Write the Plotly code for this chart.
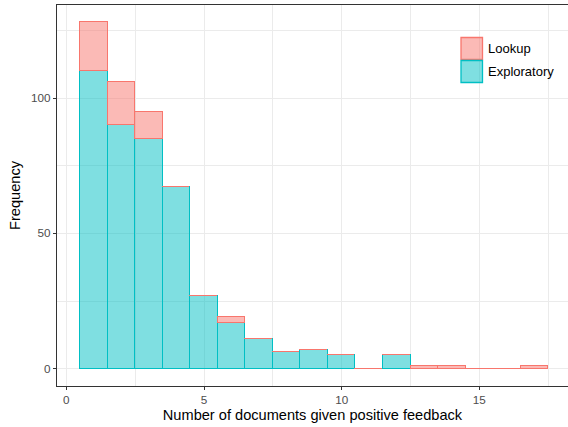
import plotly.graph_objects as go

# Bin centres (number of documents given positive feedback), bin width 1
bins = list(range(1, 18))
# Stacked histogram counts (Exploratory at the bottom, Lookup stacked on top)
exploratory = [110, 90, 85, 67, 27, 17, 11, 6, 7, 5, 0, 5, 0, 0, 0, 0, 0]
lookup = [18, 16, 10, 0, 0, 2, 0, 0, 0, 0, 0, 0, 1, 1, 0, 0, 1]

x_ticks = [0, 5, 10, 15]
y_ticks = [0, 50, 100]

RED = "#F8766D"
TEAL = "#00BFC4"
RED_FILL = "rgba(248,118,109,0.5)"
TEAL_FILL = "rgba(0,191,196,0.5)"

fig = go.Figure()
fig.add_trace(go.Bar(x=bins, y=exploratory, width=1, name="Exploratory",
                     marker=dict(color=TEAL_FILL, line=dict(color=TEAL, width=1.5)),
                     showlegend=False))
fig.add_trace(go.Bar(x=bins, y=lookup, width=1, name="Lookup",
                     marker=dict(color=RED_FILL, line=dict(color=RED, width=1.5)),
                     showlegend=False))

W, H = 568, 427
ml, mr, mt, mb = 57, 0, 5, 41

fig.update_layout(
    width=W, height=H,
    margin=dict(l=ml, r=mr, t=mt, b=mb, pad=0),
    barmode="stack",
    bargap=0,
    plot_bgcolor="white",
    paper_bgcolor="white",
    font=dict(family="Liberation Sans, Arial, sans-serif", color="black"),
    xaxis=dict(
        range=[-0.34, 18.22],
        tickvals=x_ticks,
        ticks="outside", ticklen=3, tickcolor="#333333", tickwidth=1,
        tickfont=dict(size=11.7, color="#4D4D4D"),
        showgrid=True, gridcolor="#EBEBEB", gridwidth=1.1,
        minor=dict(tickvals=[2.5, 7.5, 12.5, 17.5], showgrid=True,
                   gridcolor="#EBEBEB", gridwidth=0.55, ticks=""),
        showline=True, linecolor="#333333", linewidth=1.1, mirror=True,
        zeroline=False,
        title=dict(text="Number of documents given positive feedback",
                   font=dict(size=14.6, color="black"), standoff=4),
    ),
    yaxis=dict(
        range=[-6.4, 134.4],
        tickvals=y_ticks,
        ticks="outside", ticklen=3, tickcolor="#333333", tickwidth=1,
        tickfont=dict(size=11.7, color="#4D4D4D"),
        showgrid=True, gridcolor="#EBEBEB", gridwidth=1.1,
        minor=dict(tickvals=[25, 75, 125], showgrid=True,
                   gridcolor="#EBEBEB", gridwidth=0.55, ticks=""),
        showline=True, linecolor="#333333", linewidth=1.1, mirror=False,
        zeroline=False,
        title=dict(text="Frequency", font=dict(size=14.6, color="black"), standoff=6),
    ),
)

# Custom legend (ggplot-style keys) in pixel-derived paper coords
pw = W - ml - mr
ph = H - mt - mb
def px(xp):
    return (xp - ml) / pw
def py(yp):
    return 1 - (yp - mt) / ph

shapes = [
    dict(type="rect", xref="paper", yref="paper", layer="below",
         x0=px(453), x1=px(566), y0=py(88), y1=py(31),
         fillcolor="white", line=dict(width=0)),
]
keys = [("Lookup", RED_FILL, RED, 37.5, 59.5), ("Exploratory", TEAL_FILL, TEAL, 60.5, 82.5)]
annotations = []
for label, fill, edge, y0, y1 in keys:
    shapes.append(dict(type="rect", xref="paper", yref="paper", layer="above",
                       x0=px(461), x1=px(482.5), y0=py(y1), y1=py(y0),
                       fillcolor=fill, line=dict(color=edge, width=1.3)))
    annotations.append(dict(xref="paper", yref="paper", x=px(486), y=py((y0 + y1) / 2),
                            text=label, showarrow=False, xanchor="left", yanchor="middle",
                            font=dict(size=13, color="black")))
fig.update_layout(shapes=shapes, annotations=annotations)

fig.write_html("out.html", config={"displayModeBar": False},
               post_script="document.body.style.margin='0';document.body.style.overflow='hidden';")
